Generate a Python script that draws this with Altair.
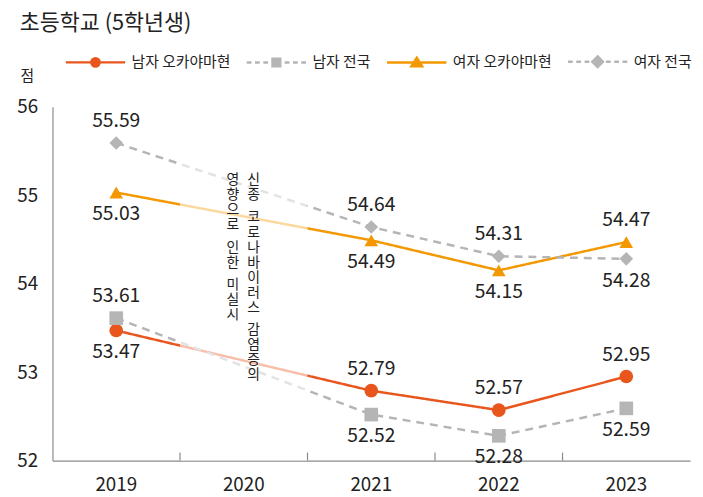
import altair as alt
import pandas as pd

FONT = "Noto Sans CJK KR"

years = ["2019", "2020", "2021", "2022", "2023"]
data_years = ["2019", "2021", "2022", "2023"]
series = ["남자 오카야마현", "남자 전국", "여자 오카야마현", "여자 전국"]
male_okayama = [53.47, 52.79, 52.57, 52.95]
male_national = [53.61, 52.52, 52.28, 52.59]
female_okayama = [55.03, 54.49, 54.15, 54.47]
female_national = [55.59, 54.64, 54.31, 54.28]
label_above = {
    "남자 오카야마현": [False, True, True, True],
    "남자 전국": [True, False, False, False],
    "여자 오카야마현": [False, False, False, True],
    "여자 전국": [True, True, True, False],
}
note_right = "신종 코로나바이러스 감염증의"
note_left = "영향으로 인한 미실시"
title_text = "초등학교 (5학년생)"

colors = ["#E9561D", "#B5B5B5", "#F39800", "#B5B5B5"]
shapes = ["circle", "square", "triangle-up", "diamond"]
dashes = [[1, 0], [8, 6], [1, 0], [8, 6]]

# legend symbols: line (solid or dashed, drawn as segments) + marker
SOLID = "M-1,0H1"
DASHED = "M-1,0H-0.84M-0.72,0H-0.56M-0.44,0H-0.28M0.28,0H0.44M0.56,0H0.72M0.84,0H1"
leg_paths = [
    SOLID + "M0.14,0A0.14,0.14,0,1,1,-0.14,0A0.14,0.14,0,1,1,0.14,0Z",
    DASHED + "M-0.13,-0.13H0.13V0.13H-0.13Z",
    SOLID + "M0,-0.16L0.18,0.13H-0.18Z",
    DASHED + "M0,-0.18L0.18,0L0,0.18L-0.18,0Z",
]

rows = []
for s, vals in zip(series, [male_okayama, male_national, female_okayama, female_national]):
    for yr, v, ab in zip(data_years, vals, label_above[s]):
        rows.append({"series": s, "year": yr, "score": v, "label": f"{v:.2f}", "above": ab})
df = pd.DataFrame(rows)

W, H = 645, 358

x_scale = alt.Scale(domain=years, paddingInner=0, paddingOuter=0)
y_scale = alt.Scale(domain=[52, 56], nice=False, zero=False)

x_enc = alt.X(
    "year:N", scale=x_scale,
    axis=alt.Axis(title=None, labelAngle=0, ticks=False, labelPadding=15, labelFontSize=19,
                  labelFont=FONT, labelColor="#222", domainColor="#8a8a8a", domainWidth=1.2),
)
y_enc = alt.Y(
    "score:Q", scale=y_scale,
    axis=alt.Axis(values=[52, 53, 54, 55, 56], format="d", ticks=False, grid=False, labelPadding=15,
                  labelFontSize=19, labelFont=FONT, labelColor="#222", domainColor="#8a8a8a",
                  domainWidth=1.2, title="점", titleAngle=0, titleX=-26, titleY=-32,
                  titleAlign="center", titleBaseline="middle", titleFontSize=15,
                  titleFontWeight="normal", titleFont=FONT, titleColor="#222"),
)

base = alt.Chart(df)

lines = []
points = []
for s, c, sh, d in zip(series, colors, shapes, dashes):
    sub = base.transform_filter(alt.datum.series == s)
    lines.append(sub.mark_line(color=c, strokeWidth=2.5, strokeDash=d).encode(x=x_enc, y=y_enc))
    points.append(sub.mark_point(filled=True, shape=sh, size=190, color=c, opacity=1).encode(x=x_enc, y=y_enc))

fade = alt.Chart(pd.DataFrame({"year": ["2020"]})).mark_rect(color="white", opacity=0.62).encode(
    x=alt.X("year:N", scale=x_scale), y=alt.datum(52), y2=alt.datum(56)
)

lab_kw = dict(font=FONT, fontSize=19.5, color="#222")
labels_up = base.transform_filter(alt.datum.above == True).mark_text(dy=-22, **lab_kw).encode(
    x=x_enc, y=y_enc, text="label:N")
labels_dn = base.transform_filter(alt.datum.above == False).mark_text(dy=22, **lab_kw).encode(
    x=x_enc, y=y_enc, text="label:N")

BLANK = "\u200b"


def vertical(s):
    out = []
    for ch in s:
        if ch == " ":
            out.append(BLANK)
        else:
            out.extend([ch, BLANK])
    return out


note_df = pd.DataFrame({"year": ["2020"], "r": [vertical(note_right)], "l": [vertical(note_left)]})
note_kw = dict(font=FONT, fontSize=14, color="#222", baseline="top", lineHeight=7.6)
note_r = alt.Chart(note_df).mark_text(dx=10, **note_kw).encode(
    x=alt.X("year:N", scale=x_scale), y=alt.datum(55.25), text="r")
note_l = alt.Chart(note_df).mark_text(dx=-11, **note_kw).encode(
    x=alt.X("year:N", scale=x_scale), y=alt.datum(55.25), text="l")

ticks = alt.Chart(pd.DataFrame({"year": years[1:]})).mark_rule(color="#8a8a8a", strokeWidth=1.2).encode(
    x=alt.X("year:N", scale=x_scale, bandPosition=0), y=alt.datum(52), y2=alt.datum(52.09)
)

legend_layer = base.transform_filter("false").mark_point(
    filled=True, size=3600, opacity=1, strokeWidth=2.5
).encode(
    x=alt.X("year:N", scale=x_scale),
    y=alt.Y("score:Q", scale=y_scale),
    color=alt.Color("series:N", scale=alt.Scale(domain=series, range=colors),
                    legend=alt.Legend(title=None, orient="none", direction="horizontal",
                                      legendX=12, legendY=-77, symbolSize=3600,
                                      symbolStrokeWidth=2.5, labelFont=FONT, labelFontSize=15,
                                      labelColor="#222", labelOffset=5, columnPadding=11,
                                      symbolOpacity=1)),
    stroke=alt.Stroke("series:N", scale=alt.Scale(domain=series, range=colors)),
    shape=alt.Shape("series:N", scale=alt.Scale(domain=series, range=leg_paths)),
)

chart = alt.layer(
    *lines, fade, *points, labels_up, labels_dn, note_r, note_l, ticks, legend_layer
).properties(
    width=W, height=H,
    title=alt.TitleParams(title_text, anchor="start", frame="group", fontSize=22, font=FONT,
                          fontWeight="normal", color="#222", dx=-33, dy=8),
    autosize=alt.AutoSizeParams(type="none"),
    padding={"left": 45, "top": 97, "right": 5, "bottom": 34},
).configure_view(stroke=None)

chart.save("out.html", embed_options={"renderer": "svg", "actions": False})
